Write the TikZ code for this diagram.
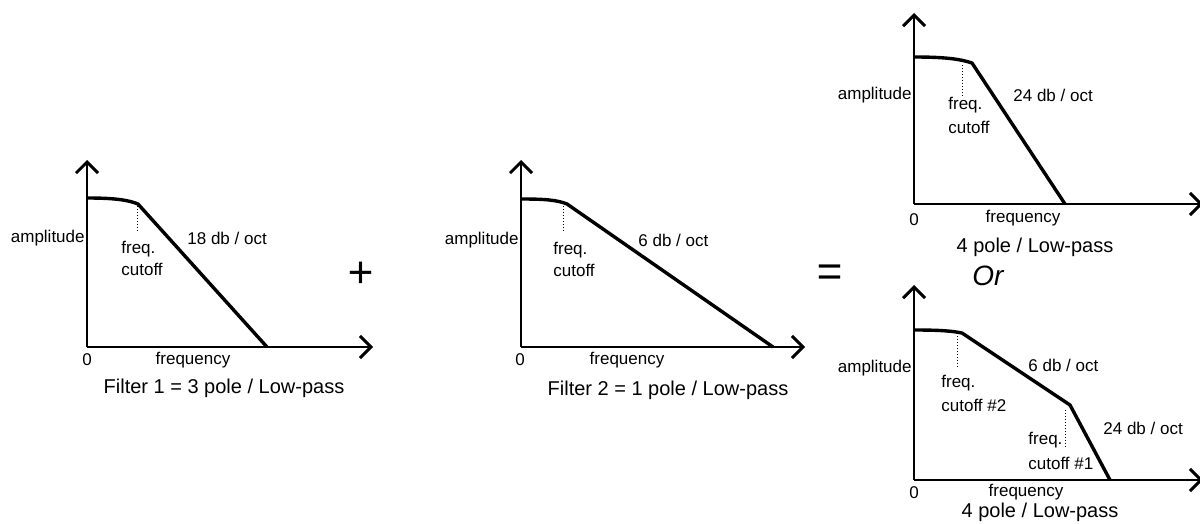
\documentclass[tikz,border=0pt]{standalone}
\usepackage{fontspec}
\setmainfont{Liberation Sans}
\usetikzlibrary{arrows.meta}
\begin{document}
\begin{tikzpicture}[x={(0.5pt,0)},y={(0,-0.5pt)},
  axisline/.style={line width=1.15pt,-{Straight Barb[length=5.5pt,width=11pt,line width=1.5pt]}},
  resp/.style={line width=1.7pt,line join=round},
  cutline/.style={densely dotted,line width=0.5pt},
  lbl/.style={font=\fontsize{8.5}{9}\selectfont,inner sep=1pt},
  captxt/.style={font=\fontsize{10}{11}\selectfont,inner sep=1pt},
  optxt/.style={font=\fontsize{22}{22}\selectfont\itshape,inner sep=0pt}]
\useasboundingbox (0,0) rectangle (1200,524);

% ---------- Graph 1 ----------
\coordinate (o1) at (87,347);
\coordinate (y1) at (87,160);
\coordinate (x1) at (373,347);
\coordinate (t1) at (87,198);
\coordinate (k1) at (138,204);
\coordinate (e1) at (267,347);
\coordinate (c1a) at (137,206);
\coordinate (c1b) at (137,232);
\draw[axisline] (o1) -- (y1);
\draw[axisline] (o1) -- (x1);
\draw[resp] (t1) .. controls (115,198) and (128,200) .. (k1) -- (e1);
\draw[cutline] (c1a) -- (c1b);
\node[lbl,anchor=east] (amp1) at (87,238) {amplitude};
\node[lbl,anchor=west] (fq1) at (119,249) {freq.};
\node[lbl,anchor=west] (co1) at (119,269) {cutoff};
\node[lbl,anchor=west] (sl1) at (185,238) {18 db / oct};
\node[lbl] (z1) at (87,360) {0};
\node[lbl] (fr1) at (193,360) {frequency};
\node[captxt] (cap1) at (224,388) {Filter 1 = 3 pole / Low-pass};
\node[optxt] (plus) at (360,275) {+};

% ---------- Graph 2 ----------
\coordinate (o2) at (521,347);
\coordinate (y2) at (521,160);
\coordinate (x2) at (805,347);
\coordinate (t2) at (521,199);
\coordinate (k2) at (567,204);
\coordinate (e2) at (773,347);
\coordinate (c2a) at (563,206);
\coordinate (c2b) at (563,233);
\draw[axisline] (o2) -- (y2);
\draw[axisline] (o2) -- (x2);
\draw[resp] (t2) .. controls (545,199) and (557,200) .. (k2) -- (e2);
\draw[cutline] (c2a) -- (c2b);
\node[lbl,anchor=east] (amp2) at (521,240) {amplitude};
\node[lbl,anchor=west] (fq2) at (551,250) {freq.};
\node[lbl,anchor=west] (co2) at (551,270) {cutoff};
\node[lbl,anchor=west] (sl2) at (636,240) {6 db / oct};
\node[lbl] (z2) at (520,360) {0};
\node[lbl] (fr2) at (627,360) {frequency};
\node[captxt] (cap2) at (668,390) {Filter 2 = 1 pole / Low-pass};
\node[optxt] (eq) at (829,276) {=};

% ---------- Graph 3 ----------
\coordinate (o3) at (914,204);
\coordinate (y3) at (914,13);
\coordinate (x3) at (1203,204);
\coordinate (t3) at (914,57);
\coordinate (k3) at (972,63);
\coordinate (e3) at (1065,204);
\coordinate (c3a) at (962,65);
\coordinate (c3b) at (962,97);
\draw[axisline] (o3) -- (y3);
\draw[axisline] (o3) -- (x3);
\draw[resp] (t3) .. controls (945,57) and (960,59) .. (k3) -- (e3);
\draw[cutline] (c3a) -- (c3b);
\node[lbl,anchor=east] (amp3) at (914,95) {amplitude};
\node[lbl,anchor=west] (fq3) at (946,105) {freq.};
\node[lbl,anchor=west] (co3) at (946,127) {cutoff};
\node[lbl,anchor=west] (sl3) at (1011,95) {24 db / oct};
\node[lbl] (z3) at (914,220) {0};
\node[lbl] (fr3) at (1023,218) {frequency};
\node[captxt] (cap3) at (1035,247) {4 pole / Low-pass};
\node[font=\fontsize{14}{14}\selectfont\itshape,inner sep=0pt] (or) at (988,276) {Or};

% ---------- Graph 4 ----------
\coordinate (o4) at (914,480);
\coordinate (y4) at (914,285);
\coordinate (x4) at (1203,480);
\coordinate (t4) at (914,330);
\coordinate (k4) at (962,333);
\coordinate (m4) at (1070,405);
\coordinate (e4) at (1110,480);
\coordinate (c4a) at (957,336);
\coordinate (c4b) at (957,367);
\coordinate (c4c) at (1065,410);
\coordinate (c4d) at (1065,447);
\draw[axisline] (o4) -- (y4);
\draw[axisline] (o4) -- (x4);
\draw[resp] (t4) .. controls (940,330) and (952,331) .. (k4) -- (m4) -- (e4);
\draw[cutline] (c4a) -- (c4b);
\draw[cutline] (c4c) -- (c4d);
\node[lbl,anchor=east] (amp4) at (914,368) {amplitude};
\node[lbl,anchor=west] (fq4a) at (939,383) {freq.};
\node[lbl,anchor=west] (co4a) at (939,405) {cutoff \#2};
\node[lbl,anchor=west] (sl4a) at (1026,365) {6 db / oct};
\node[lbl,anchor=west] (sl4b) at (1101,428) {24 db / oct};
\node[lbl,anchor=west] (fq4b) at (1026,440) {freq.};
\node[lbl,anchor=west] (co4b) at (1026,463) {cutoff \#1};
\node[lbl] (z4) at (914,493) {0};
\node[lbl] (fr4) at (1026,492) {frequency};
\node[captxt] (cap4) at (1040,512) {4 pole / Low-pass};
\end{tikzpicture}
\end{document}
